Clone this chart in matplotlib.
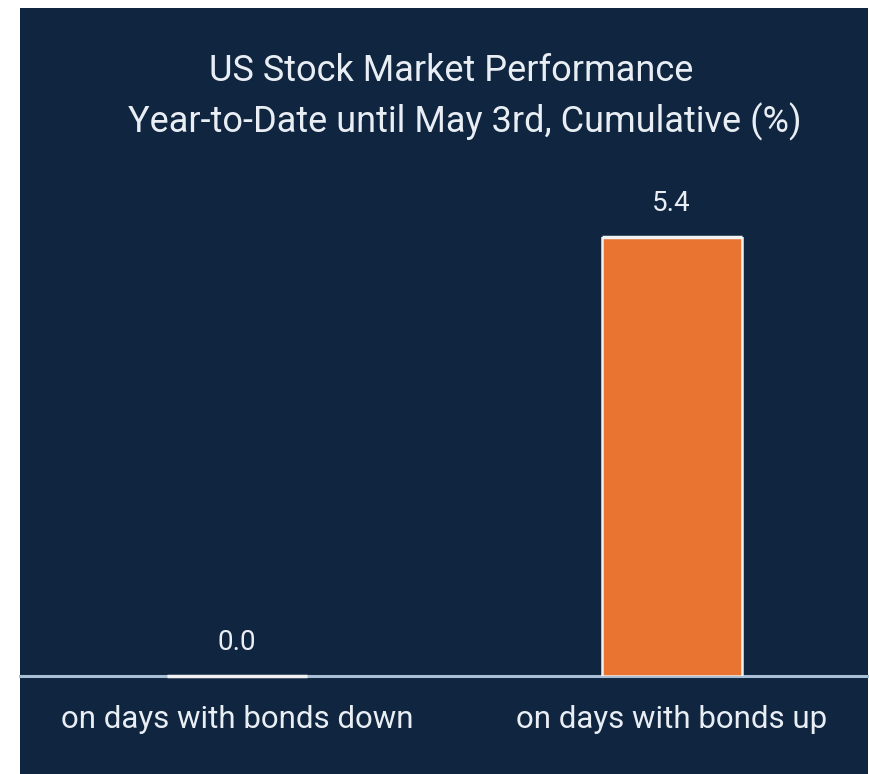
import matplotlib
matplotlib.use("Agg")
import matplotlib.pyplot as plt
from matplotlib.patches import Rectangle

# datos
categorias = ["on days with bonds down", "on days with bonds up"]
valores = [0.0, 5.4]
titulo_1 = "US Stock Market Performance"
titulo_2 = "Year-to-Date until May 3rd, Cumulative (%)"

fondo = "#10253f"
naranja = "#e97432"
texto = "#e9eef4"

plt.rcParams["font.family"] = ["Roboto", "DejaVu Sans"]

fig = plt.figure(figsize=(8.7, 7.74), dpi=100, facecolor="white")
W, H = 870, 774
# panel azul oscuro
fig.patches.append(Rectangle((20 / W, 0), (868 - 20) / W, (774 - 8) / H,
                             transform=fig.transFigure, facecolor=fondo,
                             edgecolor="none", zorder=-5))

base_y = 676
top_y = 237
ax = fig.add_axes([20 / W, (H - base_y) / H, 848 / W, (base_y - top_y) / H])
ax.patch.set_alpha(0)

x = list(range(len(categorias)))
ancho = 0.322
colores = [fondo, naranja]
ax.axhline(0, color="#aabed6", linewidth=2.2, zorder=3, clip_on=False)
bars = ax.bar(x, valores, width=ancho, color=colores, edgecolor="#f2f2f2",
              linewidth=1.8, zorder=4)
# borde superior de cada barra (la de 0.0 queda como una línea blanca)
ax.hlines(valores, [xi - ancho / 2 for xi in x], [xi + ancho / 2 for xi in x],
          color="#f2f2f2", linewidth=2.5, zorder=5, clip_on=False)
for xi, v in zip(x, valores):
    ax.annotate(f"{v:.1f}", (xi, v), xytext=(0, 24), textcoords="offset points",
                ha="center", va="center", color=texto, fontsize=20,
                annotation_clip=False)

ax.set_xlim(-0.4994, 1.452)
ax.set_ylim(0, 5.4)
for s in ax.spines.values():
    s.set_visible(False)
ax.set_yticks([])
ax.set_xticks(x)
ax.set_xticklabels(categorias, color=texto, fontsize=22.5)
ax.tick_params(axis="x", length=0, pad=21)

fig.text(451 / W, 1 - 71 / H, titulo_1, ha="center", va="center",
         color=texto, fontsize=26)
fig.text(465 / W, 1 - 122 / H, titulo_2, ha="center", va="center",
         color=texto, fontsize=26)

fig.savefig("out.png", dpi=100, facecolor=fig.get_facecolor())
